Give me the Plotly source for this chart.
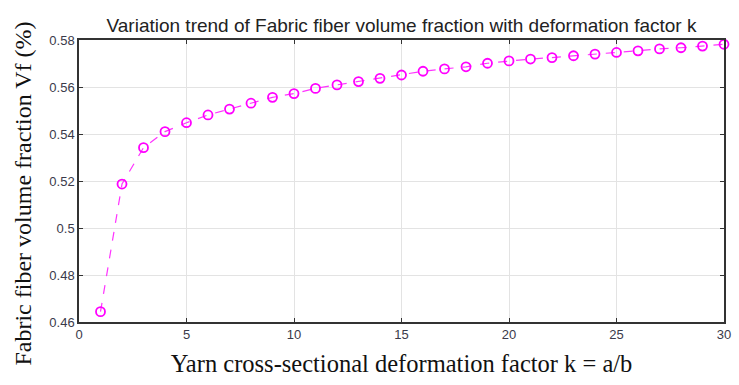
import plotly.graph_objects as go

# Deformation factor k = a/b and the resulting fabric fiber volume fraction
k_values = list(range(1, 31))
vf_values = [0.4644, 0.5187, 0.5342, 0.5410, 0.5448, 0.5481, 0.5506, 0.5531,
             0.5556, 0.5572, 0.5594, 0.5609, 0.5623, 0.5637, 0.5651, 0.5667,
             0.5677, 0.5686, 0.5701, 0.5711, 0.5719, 0.5725, 0.5733, 0.5740,
             0.5747, 0.5754, 0.5762, 0.5767, 0.5774, 0.5782]

x_ticks = [0, 5, 10, 15, 20, 25, 30]
y_ticks = [0.46, 0.48, 0.50, 0.52, 0.54, 0.56, 0.58]
y_tick_text = ["0.46", "0.48", "0.5", "0.52", "0.54", "0.56", "0.58"]

serif = "Liberation Serif, Times New Roman"
sans = "Liberation Sans, Arial"

fig = go.Figure()
fig.add_trace(go.Scatter(
    x=k_values, y=vf_values,
    mode="lines+markers",
    line=dict(color="#ff33ff", width=1.2, dash="dash"),
    marker=dict(symbol="circle-open", size=9, color="#ff00ff",
                line=dict(width=1.8, color="#ff00ff")),
    showlegend=False,
    cliponaxis=False,
))

axis_common = dict(
    showline=True, linecolor="#333333", linewidth=1.5, mirror="ticks",
    ticks="inside", ticklen=4, tickcolor="#333333",
    showgrid=True, gridcolor="#e3e3e3", gridwidth=1,
    zeroline=False,
    tickfont=dict(family=sans, size=13, color="#3a3a4a"),
)

fig.update_layout(
    width=739, height=385,
    margin=dict(l=79, r=8, t=40, b=63),
    paper_bgcolor="white", plot_bgcolor="white",
    title=dict(
        text="Variation trend of Fabric fiber volume fraction with deformation factor k",
        font=dict(family=sans, size=19, color="#222222"),
        x=0.5, xref="paper", xanchor="center", y=0.935, yanchor="middle",
    ),
    xaxis=dict(
        range=[0, 30], tickvals=x_ticks,
        title=dict(text="Yarn cross-sectional deformation factor k = a/b",
                   font=dict(family=serif, size=24.5, color="#111111"),
                   standoff=14),
        **axis_common,
    ),
    yaxis=dict(
        range=[0.46, 0.58], tickvals=y_ticks, ticktext=y_tick_text,
        **axis_common,
    ),
    annotations=[dict(
        text="Fabric fiber volume fraction Vf (%)",
        textangle=-90,
        xref="paper", yref="paper",
        x=-0.087, y=0.455, xanchor="center", yanchor="middle",
        showarrow=False,
        font=dict(family=serif, size=24, color="#111111"),
    )],
)

fig.write_html("out.html")
